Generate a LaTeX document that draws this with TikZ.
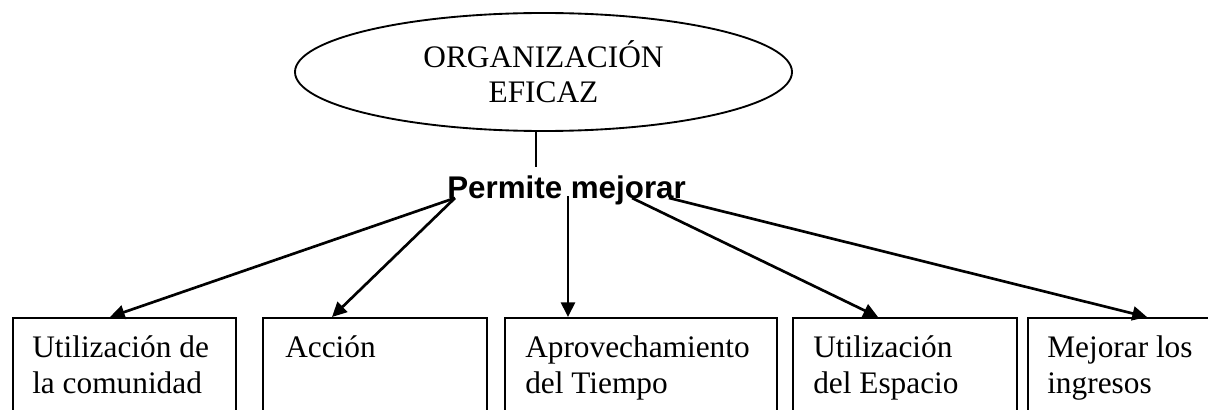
\documentclass[tikz,border=0pt]{standalone}
\usepackage{fontspec}
\setmainfont{Liberation Serif}
\setsansfont{Liberation Sans}
\usetikzlibrary{shapes.geometric,arrows.meta,calc}
\begin{document}
\begin{tikzpicture}[x=0.75pt,y=-0.75pt,
  txt/.style={font=\fontsize{23.5}{27}\selectfont, inner sep=0pt, anchor=base west},
  boxnode/.style={draw, line width=1.4pt, rectangle, inner sep=0pt, anchor=north west, minimum height=82.5pt},
  arr/.style={line width=2pt, -{Triangle[length=11pt,width=10.5pt]}},
]
\useasboundingbox (0,0) rectangle (1208,410);
\clip (0,0) rectangle (1208,410);

\node[draw, ellipse, line width=1.4pt, minimum width=372.75pt, minimum height=88.5pt,
      inner sep=0pt, align=center, font=\fontsize{23.5}{26.25}\selectfont] (org) at (543.5,72) {ORGANIZACIÓN\\EFICAZ};

\node[inner sep=0pt, anchor=base west, font=\sffamily\bfseries\fontsize{23.5}{27}\selectfont] (pm) at (447,198) {Permite mejorar};

\coordinate (vend) at (536,167);
\draw[line width=1.4pt] (org.south -| vend) -- (vend);

\node[boxnode, minimum width=167.25pt] (b1) at (12,317) {};
\node[boxnode, minimum width=168pt] (b2) at (262,317) {};
\node[boxnode, minimum width=204pt] (b3) at (504,317) {};
\node[boxnode, minimum width=168pt] (b4) at (792,317) {};
\node[boxnode, minimum width=168pt] (b5) at (1027,317) {};

\node[txt] (t1) at (32,357) {\parbox[t]{160pt}{Utilización de\\la comunidad}};
\node[txt] (t2) at (285,357) {\parbox[t]{160pt}{Acción}};
\node[txt] (t3) at (525,357) {\parbox[t]{190pt}{Aprovechamiento\\del Tiempo}};
\node[txt] (t4) at (813,357) {\parbox[t]{160pt}{Utilización\\del Espacio}};
\node[txt] (t5) at (1047,357) {\parbox[t]{160pt}{Mejorar los\\ingresos}};

\coordinate (s12) at ($(pm.base west)+(8,0)$);
\coordinate (s3) at ($(pm.base west)+(121,-2)$);
\coordinate (s4) at ($(pm.base west)+(185,0)$);
\coordinate (s5) at ($(pm.base west)+(222,0)$);

\draw[arr] (s12) -- ($(b1.north west)+(98,0)$);
\draw[arr] (s12) -- ($(b2.north west)+(70,0)$);
\draw[arr] (s3) -- ($(b3.north west)+(64,0)$);
\draw[arr] (s4) -- ($(b4.north west)+(86,0)$);
\draw[arr] (s5) -- ($(b5.north west)+(120,0)$);
\end{tikzpicture}
\end{document}
